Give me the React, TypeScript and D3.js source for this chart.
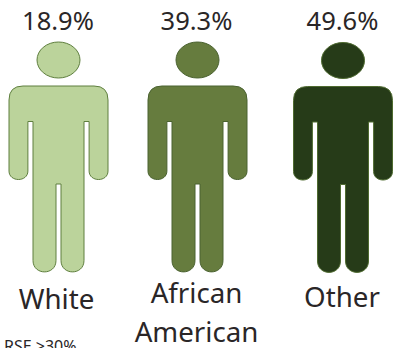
import React from "react";
import * as d3 from "d3";

const categories = ["White", "African American", "Other"];
const values = [18.9, 39.3, 49.6];
const fills = ["#BBD39B", "#667C3E", "#263B18"];
const strokes = ["#5F7F3F", "#4A6230", "#4F6B30"];
const categoryLines = [["White"], ["African", "American"], ["Other"]];
const footnote = "RSE >30%";

const W = 393;
const H = 348;

// Person centres on the horizontal axis
const xScale = d3.scaleOrdinal<string, number>().domain(categories).range([58.5, 197.5, 343]);
const yOffsets = [0, 0, 0.5];
const labelBaselines = [[309], [303, 342], [306.5]];
const labelShift = [-2, -1, -1];

// Outline of one figure, relative to its centre line
function personPath(cx: number, dy: number): string {
  const p = d3.path();
  const top = 86 + dy;
  const half = 49.5;
  const shoulder = 14;
  const armIn = 31;
  const torso = 25.5;
  const armpit = 121.5 + dy;
  const armEnd = 171 + dy;
  const armR = (half - armIn) / 2 + 0.2;
  const crotch = 184 + dy;
  const legEnd = 272 + dy;
  const gap = 2.5;
  const legW = torso - gap;
  const legR = legW / 2;
  p.moveTo(cx - half + shoulder, top);
  p.lineTo(cx + half - shoulder, top);
  p.quadraticCurveTo(cx + half, top, cx + half, top + shoulder);
  p.lineTo(cx + half, armEnd);
  p.bezierCurveTo(cx + half, armEnd + armR * 1.2, cx + armIn - 0.4, armEnd + armR * 1.2, cx + armIn - 0.4, armEnd);
  p.lineTo(cx + armIn - 0.4, armpit);
  p.lineTo(cx + torso, armpit);
  p.lineTo(cx + torso, legEnd - legR);
  p.bezierCurveTo(cx + torso, legEnd + legR * 0.32, cx + gap, legEnd + legR * 0.32, cx + gap, legEnd - legR);
  p.lineTo(cx + gap, crotch);
  p.lineTo(cx - gap, crotch);
  p.lineTo(cx - gap, legEnd - legR);
  p.bezierCurveTo(cx - gap, legEnd + legR * 0.32, cx - torso, legEnd + legR * 0.32, cx - torso, legEnd - legR);
  p.lineTo(cx - torso, armpit);
  p.lineTo(cx - armIn + 0.4, armpit);
  p.lineTo(cx - armIn + 0.4, armEnd);
  p.bezierCurveTo(cx - armIn + 0.4, armEnd + armR * 1.2, cx - half, armEnd + armR * 1.2, cx - half, armEnd);
  p.lineTo(cx - half, top + shoulder);
  p.quadraticCurveTo(cx - half, top, cx - half + shoulder, top);
  p.closePath();
  return p.toString();
}

const font = "'Noto Sans', 'Open Sans', sans-serif";
const ink = "#2A2627";

export default function App() {
  return (
    <svg
      width={W}
      height={H}
      viewBox={`0 0 ${W} ${H}`}
      style={{ position: "fixed", left: 0, top: 0, background: "#fff", display: "block" }}
      fontFamily={font}
    >
      {categories.map((c, i) => {
        const cx = xScale(c);
        const dy = yOffsets[i];
        return (
          <g key={c}>
            <text x={cx - (i === 1 ? 1 : 0.5)} y={30} textAnchor="middle" fontSize={25.5} fill={ink}>
              {`${values[i].toFixed(1)}%`}
            </text>
            <ellipse cx={cx} cy={60 + dy} rx={21.5} ry={18} fill={fills[i]} stroke={strokes[i]} strokeWidth={1} />
            <path d={personPath(cx, dy)} fill={fills[i]} stroke={strokes[i]} strokeWidth={1} />
            {categoryLines[i].map((line, j) => (
              <text key={line} x={cx + labelShift[i]} y={labelBaselines[i][j]} textAnchor="middle" fontSize={27.7} fill={ink}>
                {line}
              </text>
            ))}
          </g>
        );
      })}
      <text x={4} y={351.5} fontSize={16} fill={ink}>
        {footnote}
      </text>
    </svg>
  );
}
